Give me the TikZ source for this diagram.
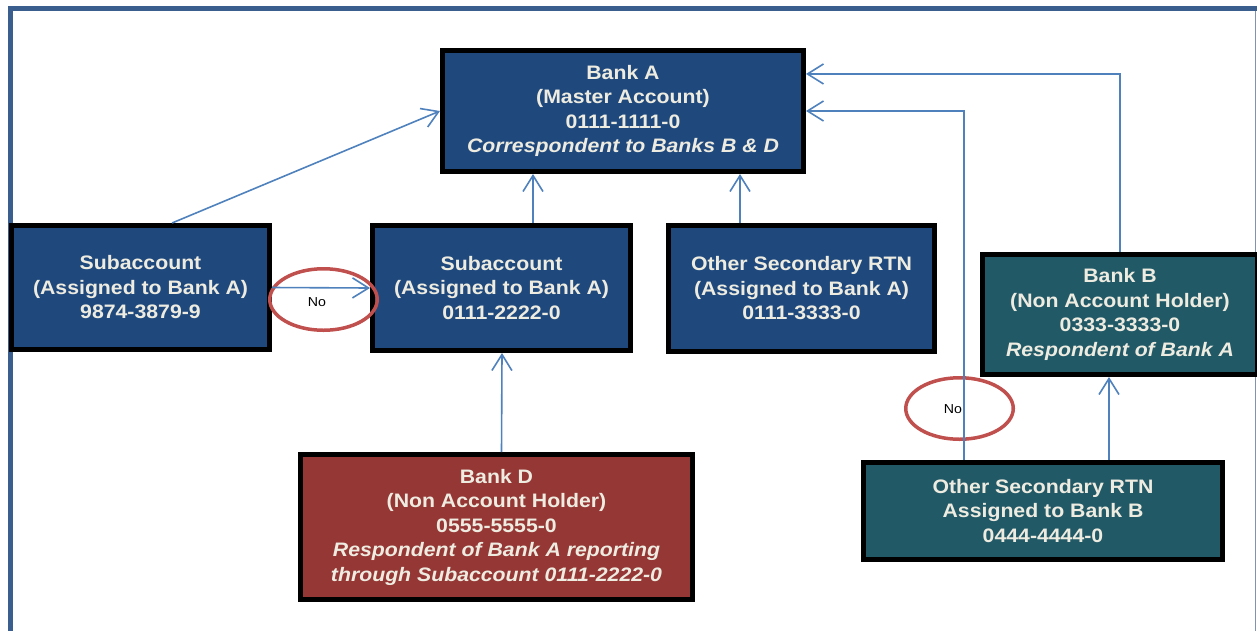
\documentclass[tikz,border=0pt]{standalone}
\usepackage{fontspec}
\setmainfont[FakeStretch=1.09]{Liberation Sans}
\usetikzlibrary{arrows.meta,calc,shapes.geometric}
\definecolor{frameblue}{HTML}{3A5F8F}
\definecolor{frameright}{HTML}{7F94B0}
\definecolor{navybox}{HTML}{1F497D}
\definecolor{tealbox}{HTML}{215967}
\definecolor{brickbox}{HTML}{953735}
\definecolor{boxtext}{HTML}{EEECE1}
\definecolor{connblue}{HTML}{4F81BD}
\definecolor{ringred}{HTML}{C0504D}
\begin{document}
\begin{tikzpicture}[x=1pt,y=-1pt,
  box/.style={draw=black, line width=5pt, text=boxtext, align=center, inner sep=0pt,
    font=\bfseries\fontsize{19.5pt}{24.5pt}\selectfont},
  conn/.style={draw=connblue, line width=1.6pt,
    -{Straight Barb[length=16pt,width=20pt,line width=1.6pt]}},
  ring/.style={draw=ringred, line width=3.5pt, ellipse, inner sep=0pt,
    minimum width=107.5pt, minimum height=61.5pt},
  notext/.style={font=\fontsize{13pt}{15pt}\selectfont, text=black, inner sep=0pt}]
\useasboundingbox (0,0) rectangle (1257,630);
\clip (0,0) rectangle (1257,630);
% frame
\draw[frameright, line width=1pt] (1255.5,8) -- (1255.5,640);
\draw[frameblue, line width=5pt] (10.8,640) -- (10.8,8.3) -- (1262,8.3);
% boxes
\node[box, fill=navybox, minimum width=361pt, minimum height=121pt] (bankA) at (623,111)
  {Bank A\\(Master Account)\\0111-1111-0\\\textit{Correspondent to Banks B \& D}};
\node[box, fill=navybox, minimum width=258pt, minimum height=124pt] (sub1) at (140.5,287.5)
  {Subaccount\\(Assigned to Bank A)\\9874-3879-9};
\node[box, fill=navybox, minimum width=258pt, minimum height=125pt] (sub2) at (501.5,288)
  {Subaccount\\(Assigned to Bank A)\\0111-2222-0};
\node[box, fill=navybox, minimum width=266pt, minimum height=126pt] (other) at (801.5,288.5)
  {Other Secondary RTN\\(Assigned to Bank A)\\0111-3333-0};
\node[box, fill=tealbox, minimum width=275pt, minimum height=120pt] (bankB) at (1120,314.5)
  {Bank B\\(Non Account Holder)\\0333-3333-0\\\textit{Respondent of Bank A}};
\node[box, fill=brickbox, minimum width=392pt, minimum height=145pt] (bankD) at (496.5,527)
  {Bank D\\(Non Account Holder)\\0555-5555-0\\\textit{Respondent of Bank A reporting}\\\textit{through Subaccount 0111-2222-0}};
\node[box, fill=tealbox, minimum width=359pt, minimum height=97pt] (obrtn) at (1043,511)
  {Other Secondary RTN\\Assigned to Bank B\\0444-4444-0};
% rings
\node[ring] (ring1) at (323.5,299.5) {};
\node[notext] (no1) at (317,302) {No};
\node[ring] (ring2) at (959.5,408.5) {};
\node[notext] (no2) at (953,409) {No};
% helper coordinates
\coordinate (s1top) at ($(sub1.north west)!0.62!(sub1.north east)$);
\coordinate (s2top) at ($(sub2.north)+(31.5,0)$);
\coordinate (ottop) at ($(other.north)+(-61.5,0)$);
\coordinate (obtop) at ($(obrtn.north)+(-79,0)$);
\coordinate (bbin) at ($(bankB.south)+(-11,0)$);
\coordinate (aright) at ($(bankA.north east)!0.206!(bankA.south east)$);
% connectors
\draw[conn] (s1top) -- (bankA.west);
\draw[conn] (sub1.east) -- (sub2.west);
\draw[conn] (s2top) -- (s2top |- bankA.south);
\draw[conn] (ottop) -- (ottop |- bankA.south);
\draw[conn] (sub2.south |- bankD.north) -- ($(sub2.south)+(0.5,0)$);
\draw[conn] (bankB.north) |- (aright);
\draw[conn] (obtop) |- (bankA.east);
\draw[conn] (bbin |- obrtn.north) -- (bbin);
\end{tikzpicture}
\end{document}
